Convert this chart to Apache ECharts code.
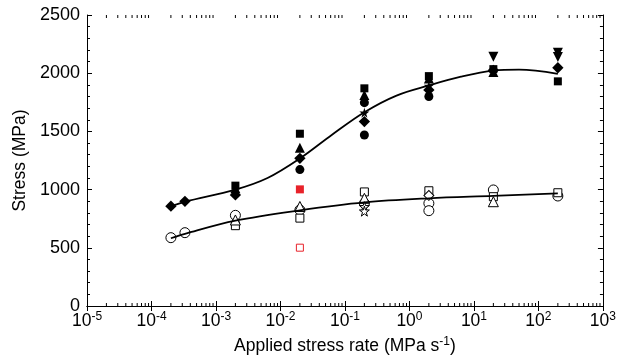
<!DOCTYPE html>
<html>
<head>
<meta charset="utf-8">
<script src="https://cdn.jsdelivr.net/npm/echarts@6/dist/echarts.min.js"></script>
<style>
  html, body { margin: 0; padding: 0; background: #fff; }
  #chart { width: 619px; height: 362px; }
</style>
</head>
<body>
<div id="chart"></div>
<script>
// filled symbols (upper set)
const filledDiamond = [[2e-4, 858], [3.3e-4, 899], [2e-3, 954], [2e-2, 1269], [2e-1, 1584], [2, 1856], [20, 2025], [200, 2047]];
const filledSquare = [[2e-3, 1034], [2e-2, 1480], [2e-1, 1870], [2, 1975], [20, 2035], [200, 1930]];
const filledTriangle = [[2e-3, 1012], [2e-2, 1360], [2e-1, 1813], [2, 1955], [20, 2010]];
const filledCircle = [[2e-2, 1172], [2e-1, 1469], [2e-1, 1747], [2, 1800]];
const filledStar = [[2e-1, 1661], [2, 1890]];
const filledDown = [[20, 2142], [200, 2175], [200, 2140]];
const redFilled = [[2e-2, 1002]];
const redOpen = [[2e-2, 501]];

// open symbols (lower set)
const openCircle = [[2e-4, 587], [3.3e-4, 630], [2e-3, 779], [2e-2, 825], [2e-1, 882], [2, 882], [2, 819], [20, 997], [200, 945]];
const openSquare = [[2e-3, 690], [2e-2, 755], [2e-1, 980], [2, 990], [20, 939], [200, 973]];
const openTriangle = [[2e-3, 739], [2e-2, 855], [2e-1, 925], [20, 896]];
const openDiamond = [[2, 950]];
const openStar = [[2e-1, 853], [2e-1, 815]];

// fitted curves
const upperFit = [[2e-4, 856], [3.3e-4, 895], [2e-3, 1000], [6.3e-3, 1100], [2e-2, 1268], [6.3e-2, 1472],
  [0.2, 1665], [0.63, 1808], [2, 1895], [6.3, 1970], [20, 2022], [50, 2030], [200, 1995]];
const lowerFit = [[2e-4, 582], [3.3e-4, 620], [2e-3, 733], [2e-2, 822], [2e-1, 890], [2, 925], [20, 946], [200, 968]];

const xMin = 1e-5, xMax = 1e3;
const yMin = 0, yMax = 2500, yStep = 500;

// log minor tick positions (2..9 x 10^n)
const minorTicks = [];
for (let e = -5; e < 3; e++) {
  for (let k = 2; k <= 9; k++) minorTicks.push([k * Math.pow(10, e), 0]);
}

const star = 'path://M50,0 L61,35 L98,35 L68,57 L79,91 L50,70 L21,91 L32,57 L2,35 L39,35 Z';
const black = '#000';
const red = '#e8222a';

function scatter(data, symbol, size, filled, color, extra) {
  return Object.assign({
    type: 'scatter',
    data: data,
    symbol: symbol,
    symbolSize: size,
    z: 3,
    itemStyle: filled
      ? { color: color, opacity: 1 }
      : { color: '#fff', borderColor: color, borderWidth: 1, opacity: 1 }
  }, extra || {});
}

function fitLine(data) {
  return {
    type: 'line',
    data: data,
    smooth: 0.35,
    showSymbol: false,
    z: 4,
    lineStyle: { color: black, width: 1.8 }
  };
}

const chart = echarts.init(document.getElementById('chart'));

const font = 'Liberation Sans, Arial, sans-serif';
const axisText = { color: black, fontSize: 18, fontFamily: font };

chart.setOption({
  animation: false,
  backgroundColor: '#fff',
  grid: { left: 87, right: 13, top: 15, bottom: 56 },
  xAxis: [
    {
      type: 'log',
      logBase: 10,
      min: xMin,
      max: xMax,
      splitNumber: 8,
      axisLine: { lineStyle: { color: black, width: 1 } },
      axisTick: { inside: true, length: 5, lineStyle: { color: black } },
      splitLine: { show: false },
      axisLabel: {
        margin: 5,
        formatter: function (v) {
          const e = Math.round(Math.log10(v));
          return '{b|10}{s|' + e + '}';
        },
        rich: {
          b: { color: black, fontFamily: font, fontSize: 17.5, lineHeight: 21 },
          s: { color: black, fontFamily: font, fontSize: 12, lineHeight: 13, verticalAlign: 'top' }
        }
      },
      name: '{n|Applied stress rate (MPa s}{s|-1}{n|)}',
      nameLocation: 'middle',
      nameGap: 25,
      nameTextStyle: {
        rich: {
          n: { color: black, fontFamily: font, fontSize: 17.5, lineHeight: 21 },
          s: { color: black, fontFamily: font, fontSize: 12, lineHeight: 13, verticalAlign: 'top' }
        }
      }
    },
    {
      type: 'log',
      logBase: 10,
      min: xMin,
      max: xMax,
      splitNumber: 8,
      position: 'top',
      axisLine: { lineStyle: { color: black, width: 1 } },
      axisTick: { inside: true, length: 5, lineStyle: { color: black } },
      axisLabel: { show: false },
      splitLine: { show: false }
    }
  ],
  yAxis: [
    {
      type: 'value',
      min: yMin,
      max: yMax,
      interval: yStep,
      axisLine: { show: true, lineStyle: { color: black, width: 1 } },
      axisTick: { show: true, inside: true, length: 5, lineStyle: { color: black } },
      minorTick: { show: true, splitNumber: 5, length: 3, lineStyle: { color: black } },
      splitLine: { show: false },
      axisLabel: Object.assign({ margin: 7, formatter: function (v) { return String(v); } }, axisText),
      name: 'Stress (MPa)',
      nameLocation: 'middle',
      nameGap: 57,
      nameTextStyle: { color: black, fontSize: 17.5, fontFamily: font }
    },
    {
      type: 'value',
      min: yMin,
      max: yMax,
      interval: yStep,
      position: 'right',
      axisLine: { show: true, lineStyle: { color: black, width: 1 } },
      axisTick: { show: true, inside: true, length: 5, lineStyle: { color: black } },
      minorTick: { show: true, splitNumber: 5, length: 3, lineStyle: { color: black } },
      splitLine: { show: false },
      axisLabel: { show: false }
    }
  ],
  series: [
    {
      type: 'custom',
      data: minorTicks,
      silent: true,
      clip: false,
      encode: { x: 0, y: 1 },
      renderItem: function (params, api) {
        const x = api.value(0);
        const b = api.coord([x, yMin]);
        const t = api.coord([x, yMax]);
        return {
          type: 'group',
          children: [
            { type: 'line', shape: { x1: b[0], y1: b[1], x2: b[0], y2: b[1] - 3 }, style: { stroke: black, lineWidth: 1 } },
            { type: 'line', shape: { x1: t[0], y1: t[1], x2: t[0], y2: t[1] + 3 }, style: { stroke: black, lineWidth: 1 } }
          ]
        };
      }
    },
    fitLine(upperFit),
    fitLine(lowerFit),
    scatter(filledDiamond, 'rect', 8, true, black, { symbolRotate: 45 }),
    scatter(filledSquare, 'rect', 8, true, black),
    scatter(filledTriangle, 'triangle', 10, true, black),
    scatter(filledCircle, 'circle', 9, true, black),
    scatter(filledStar, star, 10, true, black),
    scatter(filledDown, 'triangle', 10, true, black, { symbolRotate: 180 }),
    scatter(redFilled, 'rect', 8, true, red),
    scatter(redOpen, 'rect', 7, false, red),
    scatter(openCircle, 'circle', 10, false, black),
    scatter(openSquare, 'rect', 8, false, black),
    scatter(openTriangle, 'triangle', 10, false, black),
    scatter(openDiamond, 'rect', 7, false, black, { symbolRotate: 45 }),
    scatter(openStar, star, 10, false, black)
  ]
});
</script>
</body>
</html>
